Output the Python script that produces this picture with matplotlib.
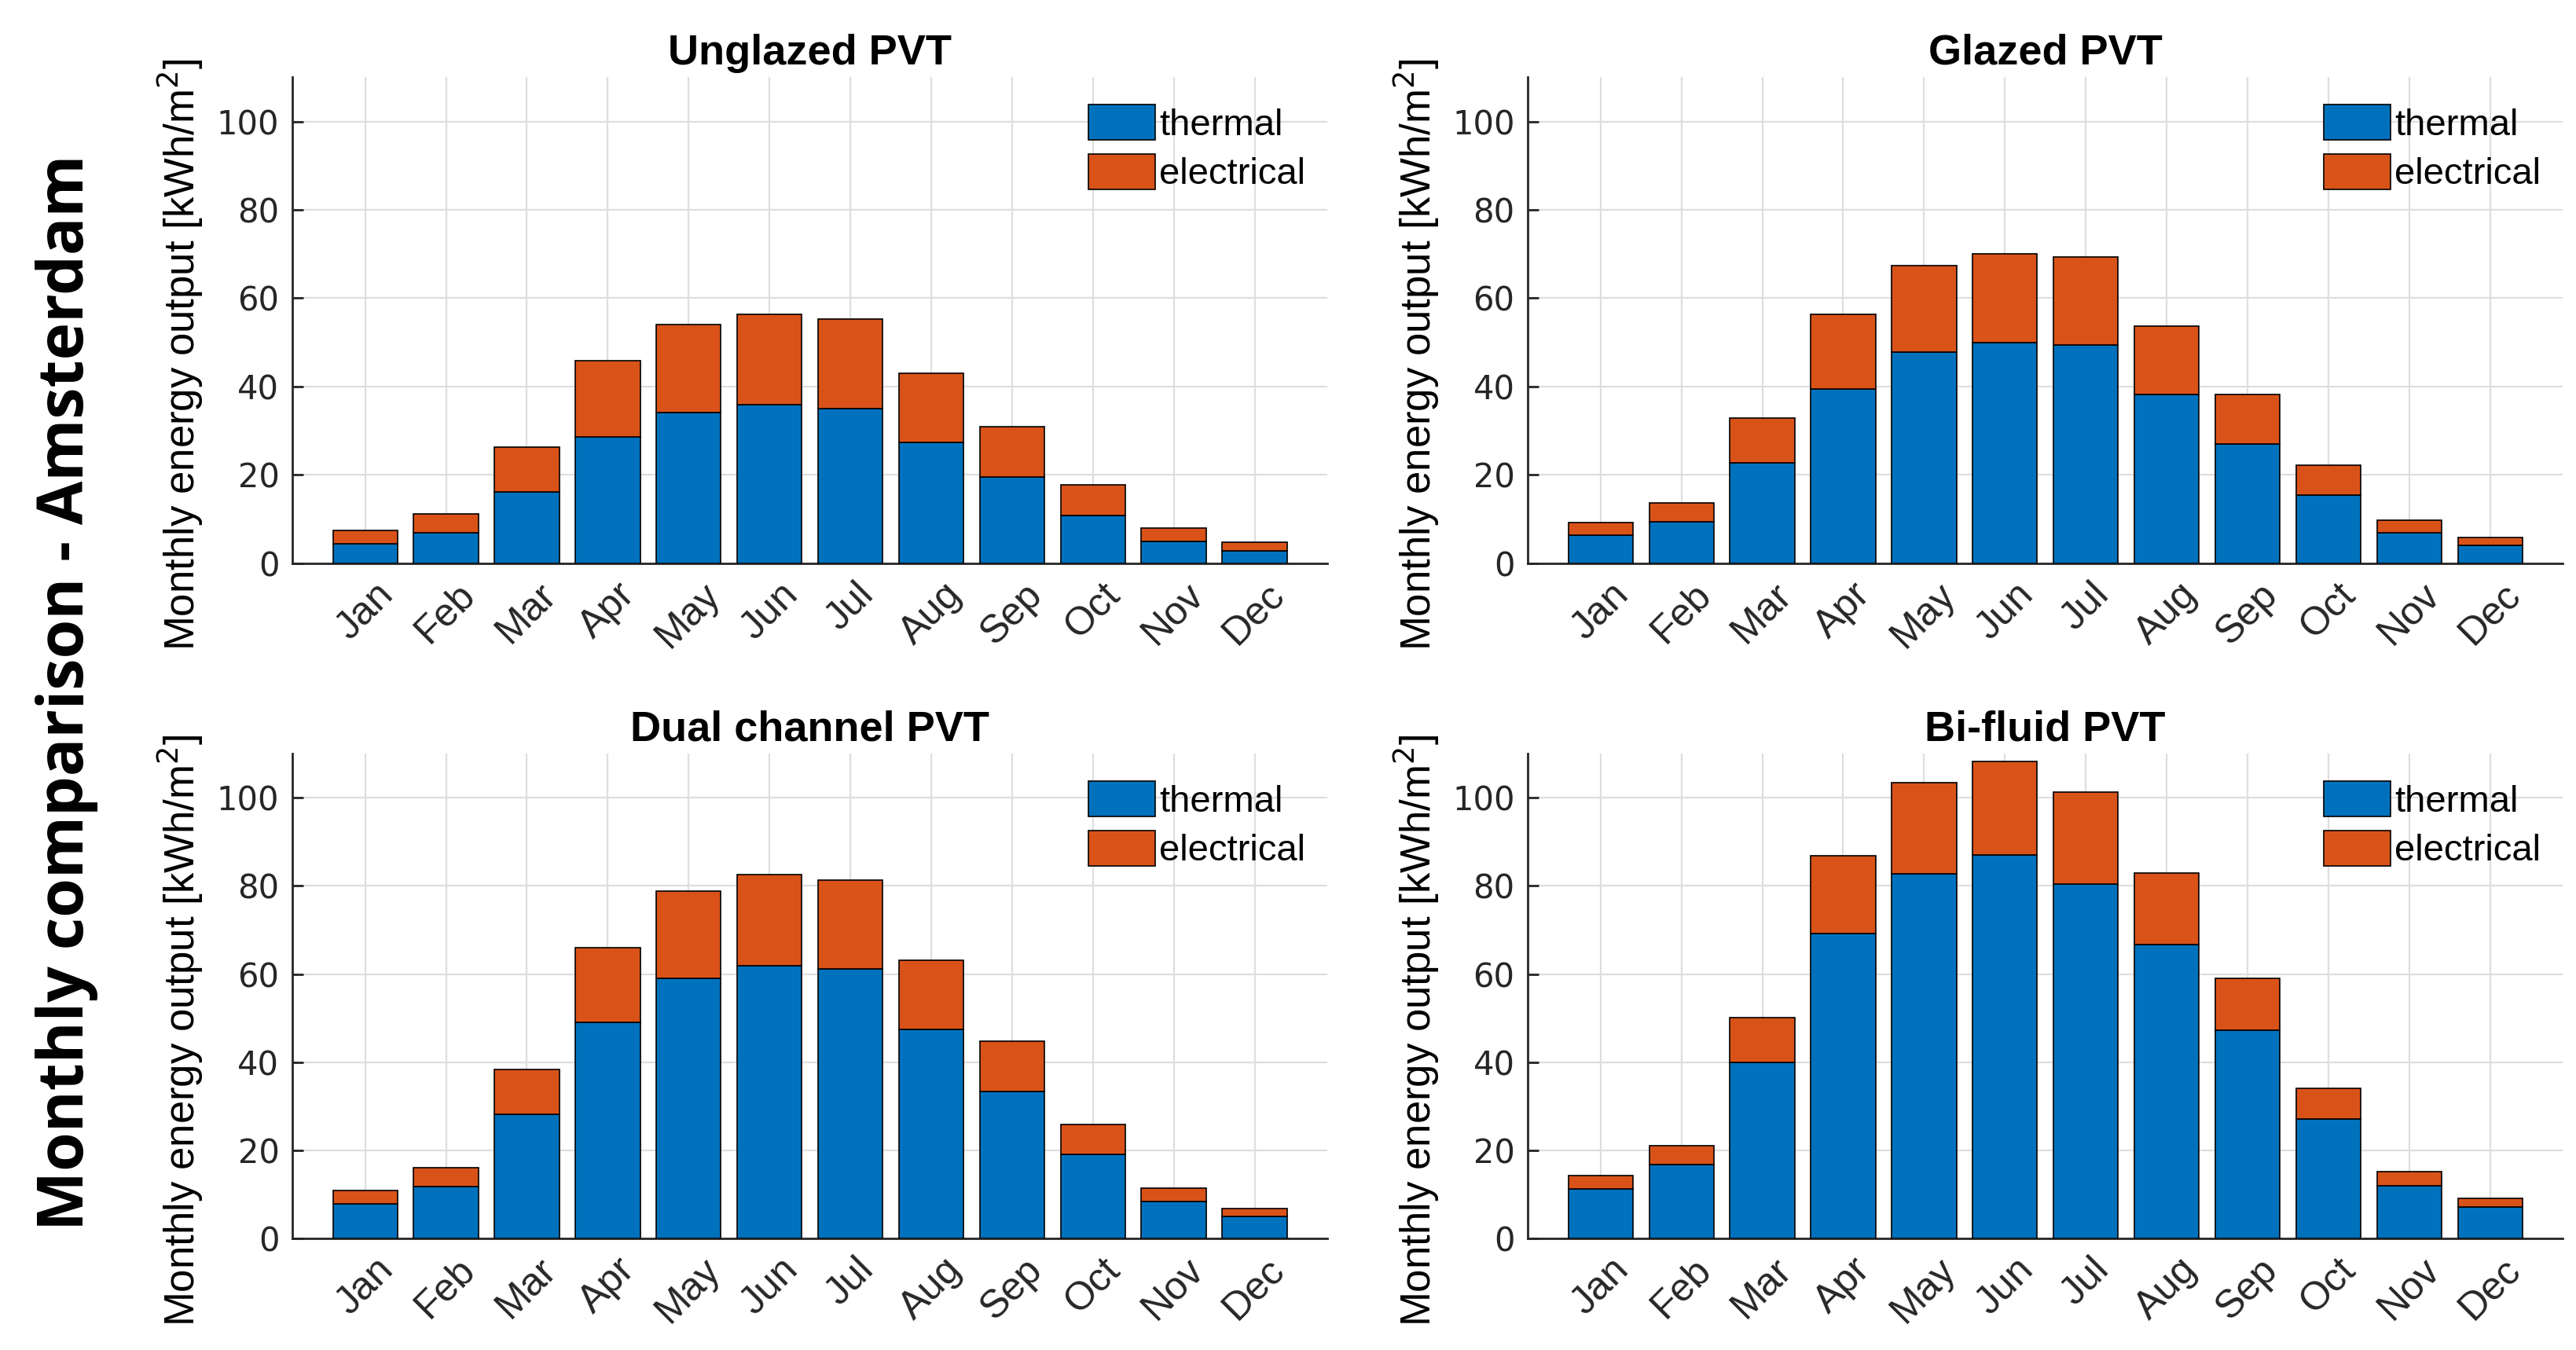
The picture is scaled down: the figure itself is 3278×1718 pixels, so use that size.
import matplotlib
matplotlib.use("Agg")
import matplotlib.pyplot as plt
import numpy as np

plt.rcParams["font.family"] = ["Liberation Sans", "DejaVu Sans"]

MONTHS = ["Jan", "Feb", "Mar", "Apr", "May", "Jun", "Jul", "Aug", "Sep", "Oct", "Nov", "Dec"]

TITLES = ["Unglazed PVT", "Glazed PVT", "Dual channel PVT", "Bi-fluid PVT"]

# thermal part and total (thermal + electrical) of each bar
UNGLAZED_THERMAL = [4.5, 6.9, 16.2, 28.6, 34.1, 35.9, 35.0, 27.3, 19.6, 10.9, 4.9, 2.8]
UNGLAZED_TOTAL = [7.4, 11.2, 26.3, 45.8, 54.0, 56.4, 55.2, 43.0, 30.9, 17.7, 7.9, 4.7]

GLAZED_THERMAL = [6.4, 9.4, 22.8, 39.4, 47.8, 49.9, 49.5, 38.2, 27.1, 15.5, 6.9, 4.0]
GLAZED_TOTAL = [9.3, 13.7, 32.9, 56.3, 67.4, 70.1, 69.4, 53.7, 38.3, 22.2, 9.8, 5.8]

DUAL_THERMAL = [7.9, 11.7, 28.2, 49.0, 59.0, 61.9, 61.1, 47.5, 33.4, 19.1, 8.4, 4.9]
DUAL_TOTAL = [10.8, 16.0, 38.3, 66.0, 78.9, 82.5, 81.3, 63.2, 44.8, 25.9, 11.4, 6.8]

BIFLUID_THERMAL = [11.2, 16.7, 39.9, 69.2, 82.8, 87.0, 80.4, 66.7, 47.2, 27.1, 12.0, 7.1]
BIFLUID_TOTAL = [14.2, 21.1, 50.1, 86.9, 103.4, 108.2, 101.3, 82.9, 59.1, 34.0, 15.1, 9.0]

THERMAL = [UNGLAZED_THERMAL, GLAZED_THERMAL, DUAL_THERMAL, BIFLUID_THERMAL]
TOTAL = [UNGLAZED_TOTAL, GLAZED_TOTAL, DUAL_TOTAL, BIFLUID_TOTAL]

BLUE = "#0072BD"
ORANGE = "#D95319"
AX_COLOR = "#262626"


def draw_panel(ax, title, thermal, total):
    x = np.arange(1, len(MONTHS) + 1)
    thermal = np.array(thermal)
    electrical = np.array(total) - thermal

    ax.bar(x, thermal, width=0.8, color=BLUE, edgecolor="black", linewidth=0.6,
           label="thermal", zorder=3)
    ax.bar(x, electrical, width=0.8, bottom=thermal, color=ORANGE, edgecolor="black",
           linewidth=0.6, label="electrical", zorder=3)

    ax.set_xlim(0.1, 12.9)
    ax.set_ylim(0, 110)
    ax.set_yticks(range(0, 101, 20))
    ax.set_xticks(x)
    ax.set_xticklabels(MONTHS, rotation=45, fontsize=18)
    for lab in ax.get_yticklabels():
        lab.set_fontfamily("DejaVu Sans")
        lab.set_fontsize(15)

    ax.grid(True, color="#dedede", linewidth=0.8, zorder=0)
    ax.set_axisbelow(True)
    ax.tick_params(direction="in", length=5, width=1.0, colors=AX_COLOR, pad=6)
    for side in ["top", "right"]:
        ax.spines[side].set_visible(False)
    for side in ["left", "bottom"]:
        ax.spines[side].set_color(AX_COLOR)
        ax.spines[side].set_linewidth(1.0)

    ax.set_title(title, fontsize=19.5, fontweight="bold", pad=6)
    ax.set_ylabel("Monthly energy output [kWh/m$^2$]", fontsize=19)
    ax.yaxis.set_label_coords(-0.084, 0.43)

    ax.legend(loc="upper right", bbox_to_anchor=(1.0, 0.99), frameon=False,
              fontsize=17, handlelength=1.8, handleheight=1.1, handletextpad=0.1,
              labelspacing=0.3, borderaxespad=0.2)


fig = plt.figure(figsize=(16.39, 8.59), dpi=200)

positions = [
    [0.1135, 0.5827, 0.4018, 0.3601],
    [0.5931, 0.5827, 0.4018, 0.3601],
    [0.1135, 0.0827, 0.4018, 0.3589],
    [0.5931, 0.0827, 0.4018, 0.3589],
]

for pos, title, th, tot in zip(positions, TITLES, THERMAL, TOTAL):
    ax = fig.add_axes(pos)
    draw_panel(ax, title, th, tot)

fig.text(0.026, 0.487, "Monthly comparison - Amsterdam", rotation=90, fontsize=29,
         fontweight="bold", ha="center", va="center", family="Open Sans")

fig.savefig("out.png", dpi=200)
